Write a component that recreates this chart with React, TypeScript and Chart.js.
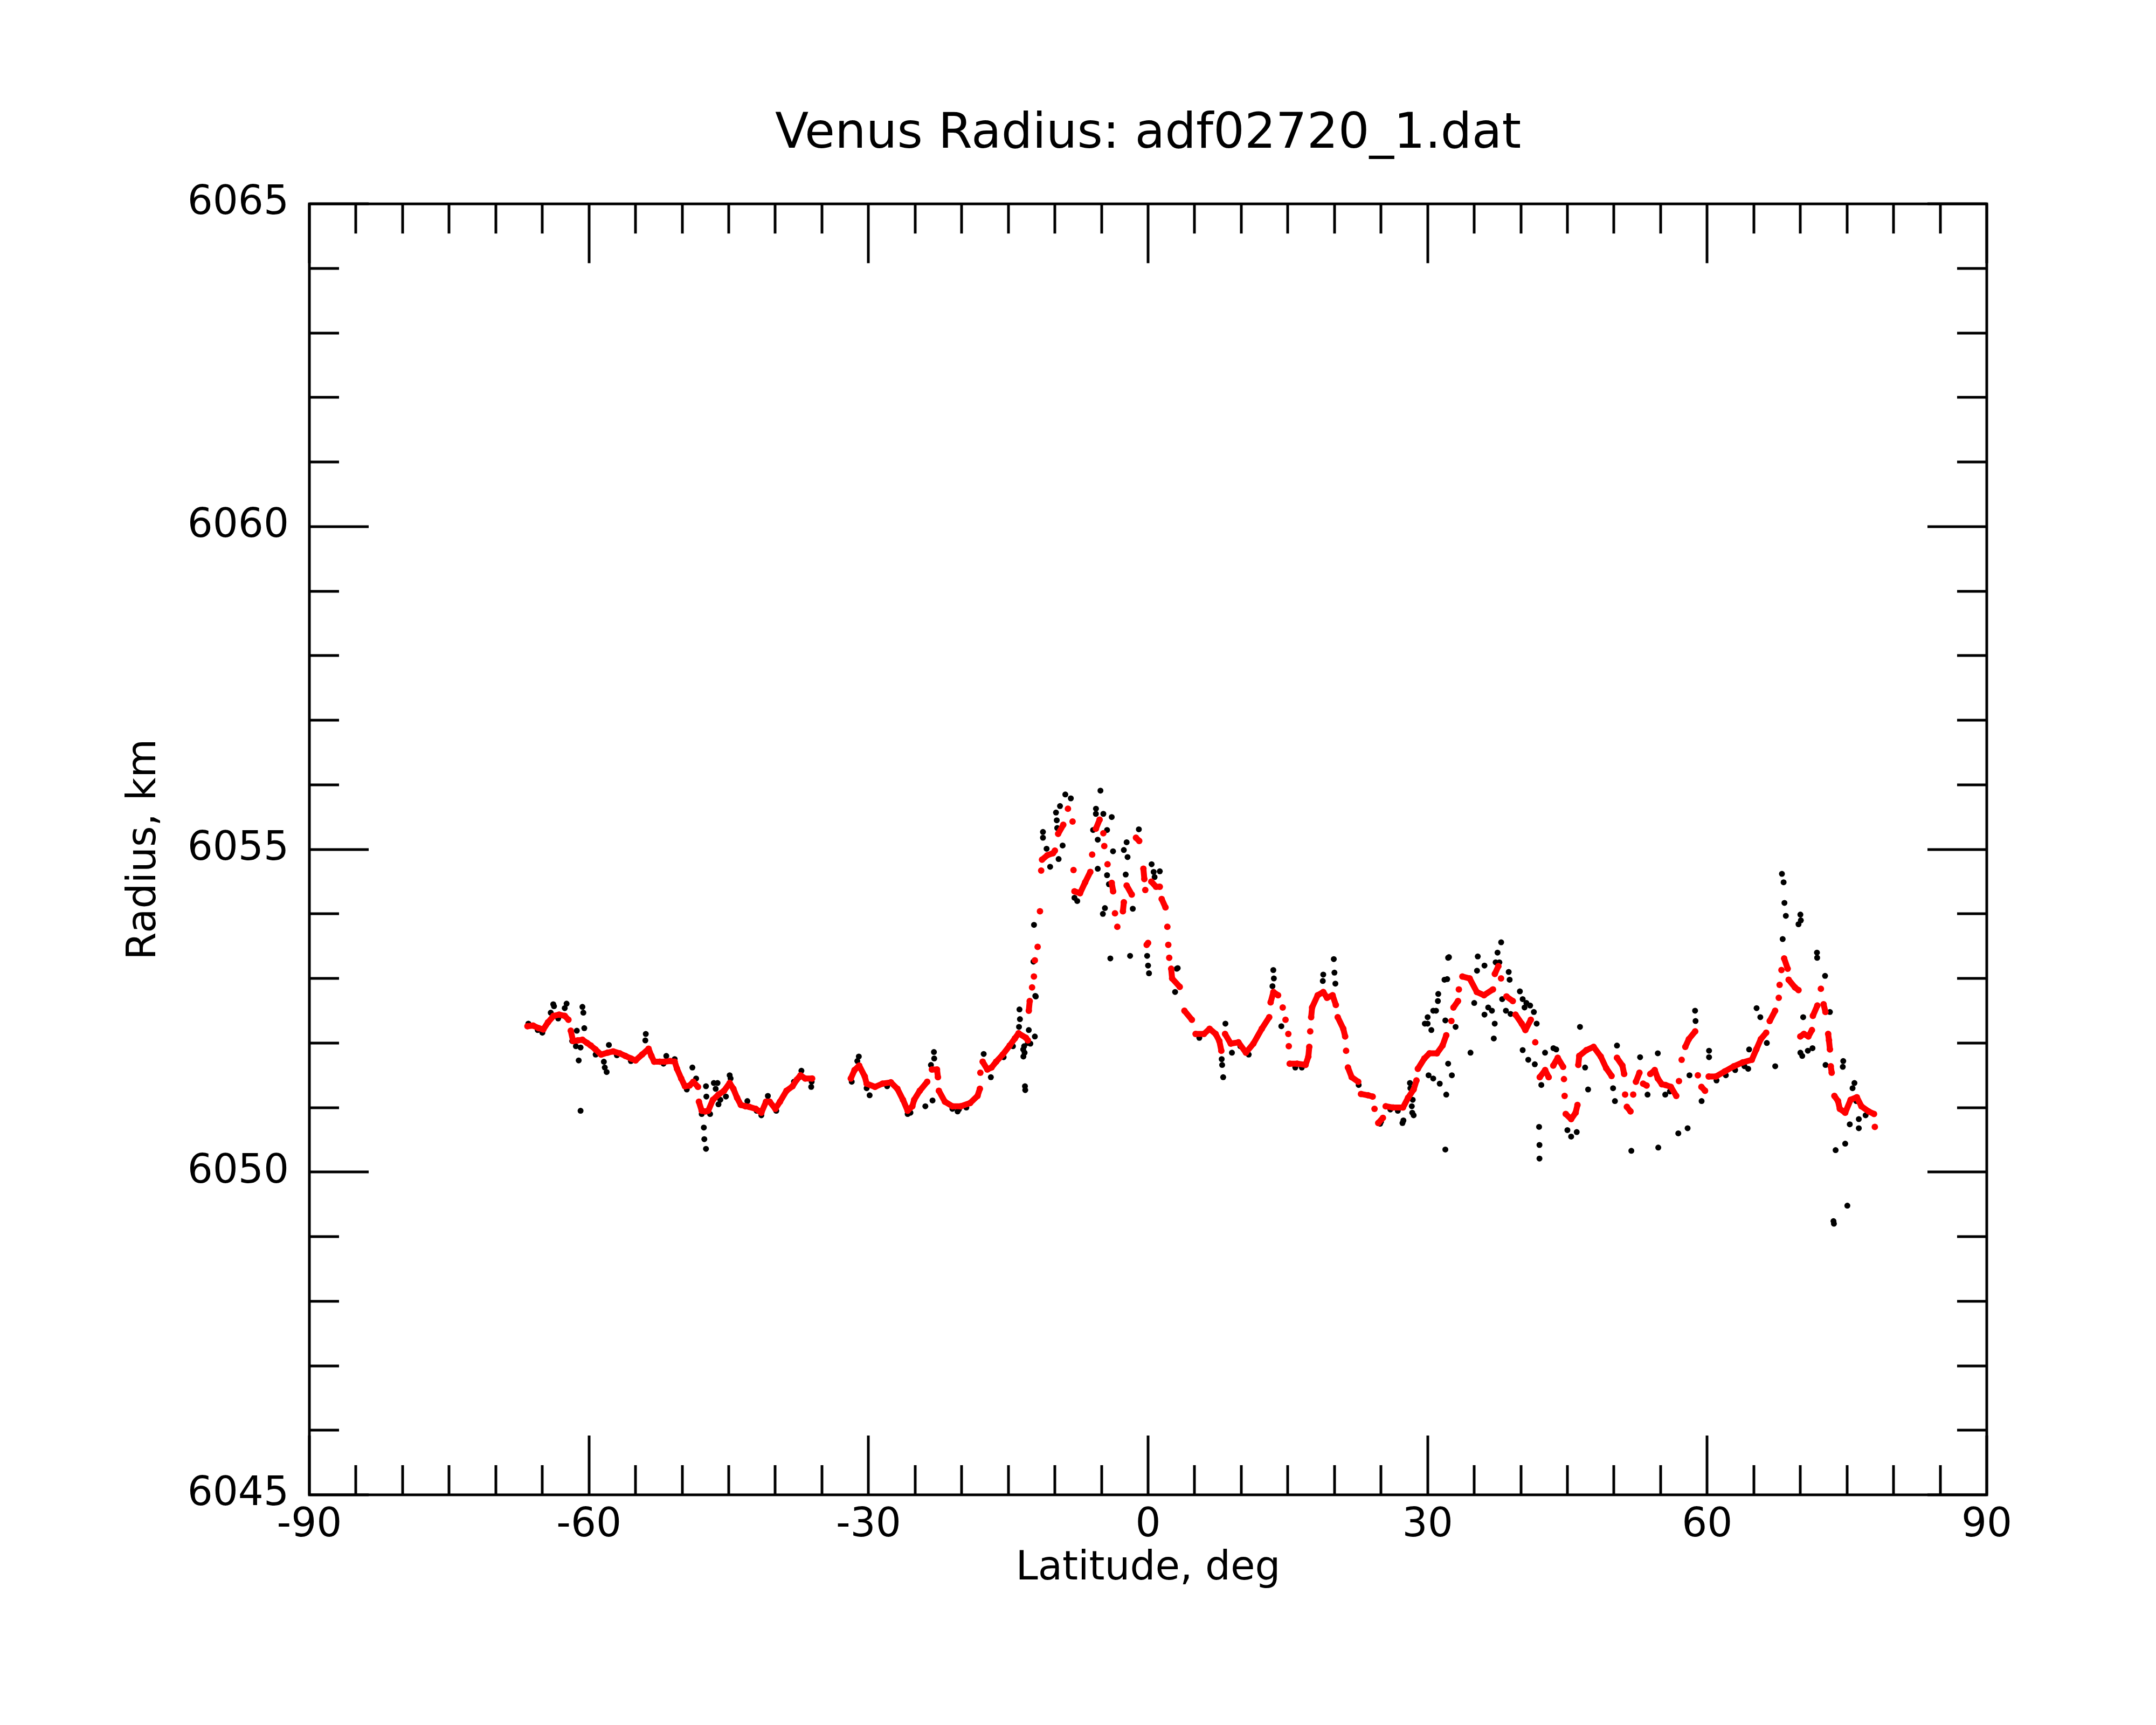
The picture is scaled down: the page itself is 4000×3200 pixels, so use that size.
import { useEffect, useRef } from "react";
import { Chart, registerables } from "chart.js";

Chart.register(...registerables);

const TITLE = "Venus Radius: adf02720_1.dat";
const X_LABEL = "Latitude, deg";
const Y_LABEL = "Radius, km";
const X_MIN = -90, X_MAX = 90, X_MAJOR = 30, X_MINOR = 5;
const Y_MIN = 6045, Y_MAX = 6065, Y_MAJOR = 5, Y_MINOR = 1;

// Smoothed radius (red), [latitude deg, radius km]
const smoothedSouth: [number, number][] = [
  [-66.6, 6052.26], [-66.0, 6052.27], [-65.4, 6052.23], [-64.9, 6052.21], [-64.4, 6052.32], [-63.8, 6052.42],
  [-63.2, 6052.44], [-62.6, 6052.42], [-62.2, 6052.36], [-61.95, 6052.19], [-61.7, 6052.03], [-61.2, 6052.04],
  [-60.7, 6052.05], [-60.2, 6052.0], [-59.8, 6051.96], [-59.3, 6051.9], [-58.7, 6051.82], [-58.0, 6051.85],
  [-57.4, 6051.87], [-56.7, 6051.84], [-56.1, 6051.8], [-55.5, 6051.76], [-55.0, 6051.73], [-54.3, 6051.82],
  [-53.6, 6051.91], [-53.3, 6051.8], [-53.0, 6051.71], [-52.4, 6051.71], [-51.9, 6051.71], [-51.3, 6051.72],
  [-50.8, 6051.71], [-50.55, 6051.6], [-50.1, 6051.45], [-49.7, 6051.33], [-49.2, 6051.34], [-48.8, 6051.4],
  [-48.3, 6051.32], [-48.2, 6051.09], [-47.9, 6050.95], [-47.5, 6050.94], [-47.2, 6050.95], [-46.7, 6051.12],
  [-46.1, 6051.2], [-45.5, 6051.26], [-44.9, 6051.38], [-44.5, 6051.29], [-44.1, 6051.15], [-43.7, 6051.04],
  [-43.2, 6051.02], [-42.8, 6051.01], [-42.1, 6050.98], [-41.5, 6050.92], [-41.0, 6051.09], [-40.6, 6051.09],
  [-40.0, 6050.98], [-39.5, 6051.09], [-38.8, 6051.26], [-38.15, 6051.33], [-37.7, 6051.43], [-37.3, 6051.5],
  [-36.8, 6051.45], [-36.05, 6051.45],
];

const smoothedMid: [number, number][] = [
  [-31.9, 6051.45], [-31.5, 6051.58], [-31.0, 6051.65], [-30.4, 6051.48], [-30.2, 6051.37], [-29.3, 6051.32],
  [-28.5, 6051.37], [-27.6, 6051.39], [-26.9, 6051.29], [-26.3, 6051.12], [-25.8, 6050.95], [-25.3, 6051.02],
  [-25.1, 6051.12], [-24.5, 6051.26], [-23.7, 6051.4], [-23.2, 6051.59], [-22.65, 6051.59], [-22.55, 6051.47],
  [-22.45, 6051.26], [-21.8, 6051.09], [-21.0, 6051.02], [-20.1, 6051.02], [-19.1, 6051.07], [-18.3, 6051.18],
  [-18.05, 6051.29], [-18.0, 6051.54], [-17.75, 6051.71], [-17.25, 6051.59], [-16.8, 6051.62], [-16.3, 6051.71],
  [-15.6, 6051.82], [-14.85, 6051.96], [-14.3, 6052.07], [-13.9, 6052.15], [-13.1, 6052.08], [-12.9, 6052.04],
  [-12.8, 6052.5], [-12.7, 6052.65], [-12.45, 6052.86], [-12.25, 6053.03], [-12.15, 6053.28], [-11.85, 6053.49],
  [-11.6, 6054.04], [-11.47, 6054.67], [-11.38, 6054.84], [-10.8, 6054.91], [-10.2, 6054.94], [-10.0, 6054.98],
  [-9.65, 6055.24], [-9.1, 6055.38], [-8.6, 6055.63], [-8.1, 6055.43], [-8.0, 6054.68], [-7.9, 6054.35],
  [-7.3, 6054.32], [-6.75, 6054.49], [-6.2, 6054.65], [-6.0, 6054.92], [-5.6, 6055.32], [-5.2, 6055.46],
  [-4.8, 6055.25], [-4.7, 6055.05], [-4.35, 6054.77], [-3.9, 6054.48], [-3.75, 6054.35], [-3.55, 6054.01],
  [-3.3, 6053.8], [-2.7, 6054.04], [-2.6, 6054.18], [-2.3, 6054.44], [-1.75, 6054.3], [-1.3, 6055.18],
  [-0.95, 6055.13], [-0.5, 6054.7], [-0.4, 6054.54], [-0.3, 6054.37], [-0.15, 6053.52], [0.0, 6053.55],
  [0.35, 6054.5], [0.85, 6054.42], [1.26, 6054.42], [1.46, 6054.23], [1.87, 6054.1], [2.07, 6053.8],
  [2.17, 6053.52], [2.27, 6053.32], [2.48, 6053.15], [2.58, 6053.0], [3.4, 6052.87], [3.9, 6052.5],
  [4.7, 6052.36], [5.1, 6052.14], [6.0, 6052.14], [6.6, 6052.22], [7.25, 6052.14], [7.65, 6052.03],
  [7.86, 6051.88], [8.26, 6052.14], [8.87, 6051.99], [9.7, 6052.01], [10.5, 6051.85], [11.3, 6051.99],
  [12.2, 6052.22], [13.0, 6052.4], [13.15, 6052.63], [13.45, 6052.79], [13.95, 6052.74], [14.45, 6052.55],
  [14.75, 6052.36], [15.05, 6052.14], [15.1, 6051.95], [15.2, 6051.68],
];

const smoothedNorth: [number, number][] = [
  [16.0, 6051.68], [16.9, 6051.66], [17.2, 6051.79], [17.3, 6051.94], [17.4, 6052.18], [17.5, 6052.4],
  [17.6, 6052.55], [18.2, 6052.74], [18.8, 6052.79], [19.2, 6052.7], [19.8, 6052.74], [20.15, 6052.59],
  [20.35, 6052.4], [20.95, 6052.22], [21.15, 6052.1], [21.25, 6051.88], [21.45, 6051.62], [21.85, 6051.47],
  [22.55, 6051.4], [22.85, 6051.21], [23.6, 6051.19], [24.1, 6051.17], [24.3, 6050.98], [24.7, 6050.76],
  [25.2, 6050.84], [25.5, 6051.02], [26.3, 6051.0], [27.35, 6051.0], [27.9, 6051.15], [28.5, 6051.28],
  [28.8, 6051.42], [28.95, 6051.6], [29.65, 6051.76], [30.2, 6051.84], [31.0, 6051.84], [31.6, 6051.96],
  [32.0, 6052.12], [32.55, 6052.34], [32.77, 6052.55], [33.26, 6052.65], [33.35, 6052.83], [33.73, 6053.03],
  [34.51, 6053.0], [35.28, 6052.79], [36.05, 6052.74], [37.01, 6052.83], [37.21, 6053.07], [37.59, 6053.19],
  [37.88, 6053.0], [38.46, 6052.72], [39.14, 6052.65], [39.43, 6052.44], [40.1, 6052.3], [40.49, 6052.2],
  [41.07, 6052.36], [41.55, 6052.01], [42.03, 6051.47], [42.61, 6051.58], [42.99, 6051.47], [43.48, 6051.65],
  [43.96, 6051.77], [44.54, 6051.63], [44.63, 6051.44], [44.7, 6051.18], [44.82, 6050.9], [45.4, 6050.82],
  [45.88, 6050.92], [46.08, 6051.04], [46.17, 6051.66], [46.27, 6051.8], [47.04, 6051.89], [47.81, 6051.94],
  [48.58, 6051.79], [49.16, 6051.61], [49.74, 6051.49], [50.32, 6051.77], [50.9, 6051.65], [51.09, 6051.52],
  [51.19, 6051.2], [51.38, 6051.01], [51.77, 6050.94], [52.06, 6051.2], [52.35, 6051.4], [52.73, 6051.54],
  [53.12, 6051.37], [53.5, 6051.34], [53.89, 6051.52], [54.37, 6051.58], [54.7, 6051.45], [55.14, 6051.36],
  [55.52, 6051.35], [56.1, 6051.32], [56.68, 6051.18], [56.97, 6051.41], [57.26, 6051.74], [57.65, 6051.94],
  [58.03, 6052.06], [58.71, 6052.18], [59.0, 6051.5], [59.38, 6051.32], [59.77, 6051.26], [60.16, 6051.48],
  [60.93, 6051.48], [61.89, 6051.56], [62.86, 6051.64], [63.82, 6051.7], [64.79, 6051.74], [65.27, 6051.9],
  [65.75, 6052.06], [66.33, 6052.16], [66.71, 6052.34], [67.29, 6052.5], [67.68, 6052.7], [67.77, 6052.9],
  [67.97, 6053.13], [68.26, 6053.31], [68.64, 6053.15], [68.74, 6052.98], [69.42, 6052.86], [69.8, 6052.82],
  [69.99, 6052.1], [70.38, 6052.14], [70.86, 6052.1], [71.24, 6052.2], [71.34, 6052.42], [71.82, 6052.58],
  [72.2, 6052.84], [72.49, 6052.6], [72.69, 6052.48], [72.98, 6052.14], [73.07, 6052.04], [73.17, 6051.9],
  [73.26, 6051.64], [73.36, 6051.54], [73.65, 6051.18], [74.04, 6051.1], [74.23, 6050.98], [74.81, 6050.92],
  [75.39, 6051.12], [76.06, 6051.16], [76.55, 6051.02], [77.32, 6050.94], [77.9, 6050.9], [77.99, 6050.7],
];

// Raw radius samples (black), [latitude deg, radius km]
const rawSouth: [number, number][] = [
  [-66.5, 6052.3], [-65.5, 6052.2], [-65.0, 6052.16], [-64.1, 6052.47], [-63.83, 6052.6], [-63.75, 6052.57],
  [-63.3, 6052.38], [-62.4, 6052.61], [-62.6, 6052.54], [-60.7, 6052.56], [-60.6, 6052.47], [-60.5, 6052.23],
  [-61.3, 6052.19], [-61.8, 6052.03], [-61.4, 6051.95], [-60.9, 6051.93], [-61.1, 6051.73], [-60.9, 6050.95],
  [-59.28, 6051.82], [-58.4, 6051.71], [-58.3, 6051.62], [-58.1, 6051.55], [-57.86, 6051.97], [-57.0, 6051.81],
  [-55.5, 6051.72], [-53.9, 6052.14], [-53.95, 6052.04], [-52.0, 6051.68], [-51.7, 6051.8], [-50.8, 6051.75],
  [-49.5, 6051.28], [-48.9, 6051.62], [-48.5, 6051.45], [-47.9, 6050.9], [-47.44, 6051.33], [-47.4, 6051.17],
  [-47.67, 6050.69], [-47.62, 6050.51], [-47.44, 6050.36], [-47.0, 6050.9], [-46.6, 6051.38], [-46.2, 6051.38],
  [-46.4, 6051.29], [-45.9, 6051.12], [-46.1, 6051.05], [-44.9, 6051.5], [-44.8, 6051.45], [-45.3, 6051.17],
  [-43.0, 6051.1], [-42.0, 6050.95], [-41.5, 6050.88], [-40.8, 6051.18], [-39.9, 6050.95], [-38.0, 6051.4],
  [-37.5, 6051.46], [-37.2, 6051.57], [-36.15, 6051.32], [-36.1, 6051.4],
];

const rawMid: [number, number][] = [
  [-31.8, 6051.4], [-31.04, 6051.79], [-31.2, 6051.72], [-30.2, 6051.3], [-29.88, 6051.19], [-28.0, 6051.33],
  [-25.8, 6050.9], [-25.5, 6050.92], [-23.9, 6051.02], [-23.13, 6051.11], [-22.98, 6051.86], [-22.95, 6051.76],
  [-23.3, 6051.66], [-21.0, 6050.98], [-20.44, 6050.94], [-20.3, 6050.97], [-19.5, 6051.0], [-16.87, 6051.47],
  [-17.64, 6051.83], [-15.5, 6051.78], [-14.5, 6051.95], [-13.85, 6052.25], [-13.8, 6052.52], [-13.75, 6052.37],
  [-13.4, 6051.9], [-13.38, 6051.79], [-13.3, 6051.95], [-13.25, 6051.85], [-13.21, 6051.33], [-13.18, 6051.27],
  [-12.9, 6052.0], [-12.8, 6052.2], [-12.63, 6051.99], [-12.3, 6053.26], [-12.24, 6053.83], [-12.15, 6052.1],
  [-12.1, 6052.73], [-12.05, 6052.72], [-11.28, 6055.27], [-11.28, 6055.18], [-10.89, 6055.01],
  [-10.51, 6054.73], [-9.88, 6055.57], [-9.8, 6055.45], [-9.75, 6055.33], [-9.6, 6054.85], [-9.45, 6055.67],
  [-9.17, 6055.06], [-8.88, 6055.85], [-8.29, 6055.79], [-7.9, 6054.25], [-7.6, 6054.2], [-5.9, 6055.3],
  [-5.6, 6055.55], [-5.59, 6055.63], [-5.4, 6055.15], [-5.4, 6054.7], [-5.11, 6055.91], [-4.85, 6054.0],
  [-4.8, 6055.55], [-4.63, 6054.09], [-4.4, 6055.3], [-4.4, 6054.6], [-4.2, 6054.46], [-4.05, 6053.31],
  [-3.9, 6055.5], [-3.76, 6054.97], [-2.6, 6054.99], [-2.4, 6054.61], [-2.3, 6055.11], [-2.2, 6054.88],
  [-1.93, 6053.35], [-1.64, 6054.08], [-0.99, 6055.31], [-0.1, 6053.35], [0.0, 6053.2], [0.1, 6053.08],
  [0.38, 6054.77], [0.6, 6054.65], [0.7, 6054.57], [1.26, 6054.66], [2.9, 6052.79], [3.08, 6053.15],
  [3.18, 6053.16], [5.5, 6052.08], [7.9, 6051.75], [7.95, 6051.66], [8.06, 6051.47], [8.3, 6052.3],
  [9.0, 6051.85], [9.9, 6051.95], [10.8, 6051.82], [13.35, 6052.88], [13.44, 6053.13], [13.5, 6053.0],
  [14.3, 6052.26],
];

const rawNorth: [number, number][] = [
  [15.8, 6051.62], [16.5, 6051.62], [18.75, 6052.96], [18.8, 6053.06], [19.93, 6053.3], [20.0, 6053.09],
  [20.1, 6052.92], [22.6, 6051.35], [24.9, 6050.75], [25.0, 6050.78], [26.0, 6050.97], [26.8, 6050.95],
  [27.3, 6050.76], [27.4, 6050.8], [28.1, 6051.38], [28.15, 6051.3], [28.3, 6051.02], [28.35, 6050.92],
  [28.4, 6051.12], [28.5, 6050.88], [29.7, 6052.3], [30.0, 6052.4], [30.0, 6052.3], [30.1, 6051.5],
  [30.4, 6052.2], [30.6, 6051.45], [30.6, 6052.5], [30.9, 6052.5], [31.1, 6052.65], [31.14, 6052.76],
  [31.3, 6051.37], [31.81, 6052.98], [31.9, 6052.35], [31.9, 6050.35], [32.0, 6051.2], [32.1, 6052.99],
  [32.2, 6053.32], [32.2, 6051.68], [32.29, 6053.33], [32.6, 6051.5], [33.0, 6052.25], [34.6, 6051.85],
  [35.0, 6052.62], [35.3, 6053.12], [35.38, 6053.34], [36.1, 6053.2], [36.1, 6052.44], [36.5, 6052.55],
  [36.9, 6052.5], [37.1, 6052.07], [37.2, 6052.3], [37.3, 6053.25], [37.5, 6053.4], [37.7, 6053.25],
  [37.89, 6053.56], [38.0, 6052.68], [38.4, 6052.5], [38.7, 6053.1], [38.8, 6052.98], [38.9, 6052.45],
  [39.9, 6052.8], [40.2, 6052.68], [40.2, 6051.89], [40.4, 6052.55], [40.6, 6052.62], [40.8, 6051.74],
  [41.0, 6052.58], [41.4, 6052.48], [41.5, 6051.67], [41.7, 6052.3], [41.96, 6050.7], [42.0, 6050.42],
  [42.0, 6050.21], [42.2, 6051.35], [42.6, 6051.85], [43.5, 6051.92], [43.8, 6051.9], [45.0, 6050.65],
  [45.4, 6050.55], [46.0, 6050.62], [46.35, 6052.25], [46.9, 6051.62], [47.22, 6051.28], [49.9, 6051.3],
  [50.1, 6051.1], [50.32, 6051.96], [51.86, 6050.33], [52.8, 6051.78], [53.6, 6051.2], [54.7, 6051.84],
  [54.75, 6050.38], [55.5, 6051.2], [56.0, 6051.25], [56.9, 6050.6], [57.9, 6050.68], [58.1, 6051.5],
  [58.7, 6052.5], [58.75, 6052.34], [59.4, 6051.1], [60.2, 6051.88], [60.2, 6051.78], [61.0, 6051.42],
  [62.0, 6051.5], [63.0, 6051.58], [64.0, 6051.64], [64.4, 6051.6], [64.5, 6051.9], [65.3, 6052.54],
  [65.7, 6052.4], [66.4, 6052.0], [67.3, 6051.64], [68.02, 6054.62], [68.1, 6053.61], [68.2, 6054.49],
  [68.29, 6054.17], [68.44, 6053.97], [69.8, 6053.84], [70.0, 6053.99], [70.0, 6051.85], [70.05, 6053.9],
  [70.2, 6051.8], [70.3, 6052.4], [70.8, 6051.88], [71.3, 6051.92], [71.78, 6053.4], [71.8, 6053.32],
  [72.65, 6053.04], [72.7, 6051.66], [73.17, 6052.48], [73.55, 6049.24], [73.6, 6049.2], [73.78, 6050.34],
  [74.55, 6051.63], [74.6, 6051.72], [74.81, 6050.44], [75.04, 6049.48], [75.3, 6050.74], [75.6, 6051.3],
  [75.8, 6051.38], [76.0, 6051.1], [76.27, 6050.82], [76.27, 6050.68], [77.0, 6050.88],
];

const FONT = "'DejaVu Sans', 'Liberation Sans', sans-serif";

const frameTicks = {
  id: "frameTicks",
  afterDraw(chart: any) {
    const { ctx, chartArea, scales } = chart;
    const { left, right, top, bottom } = chartArea;
    const x = scales.x, y = scales.y;
    ctx.save();
    ctx.strokeStyle = "#000";
    ctx.lineWidth = 5;
    ctx.lineCap = "butt";
    const seg = (x0: number, y0: number, x1: number, y1: number) => {
      ctx.beginPath();
      ctx.moveTo(x0, y0);
      ctx.lineTo(x1, y1);
      ctx.stroke();
    };
    for (let v = X_MIN; v <= X_MAX; v += X_MINOR) {
      const px = Math.round(x.getPixelForValue(v));
      const len = v % X_MAJOR === 0 ? 110 : 55;
      seg(px, bottom, px, bottom - len);
      seg(px, top, px, top + len);
    }
    for (let v = Y_MIN; v <= Y_MAX; v += Y_MINOR) {
      const py = Math.round(y.getPixelForValue(v));
      const len = (v - Y_MIN) % Y_MAJOR === 0 ? 110 : 55;
      seg(left, py, left + len, py);
      seg(right, py, right - len, py);
    }
    ctx.strokeRect(left, top, right - left, bottom - top);
    ctx.restore();
  },
};

export default function App() {
  const ref = useRef<HTMLCanvasElement>(null);
  useEffect(() => {
    document.body.style.margin = "0";
    const toPts = (arr: [number, number][]) => arr.map(([a, b]) => ({ x: a, y: b }));
    const smoothed = toPts([...smoothedSouth, ...smoothedMid, ...smoothedNorth]);
    const raw = toPts([...rawSouth, ...rawMid, ...rawNorth]);
    const chart = new Chart(ref.current as HTMLCanvasElement, {
      type: "scatter",
      data: {
        datasets: [
          {
            label: "smoothed",
            data: smoothed,
            order: 0,
            showLine: true,
            borderColor: "#ff0000",
            borderWidth: 11,
            borderCapStyle: "round",
            borderJoinStyle: "round",
            tension: 0,
            pointRadius: 6,
            pointBorderWidth: 0,
            pointBackgroundColor: "#ff0000",
            segment: {
              borderColor: (c: any) => {
                const dx = c.p1.x - c.p0.x;
                const dy = Math.abs(c.p1.y - c.p0.y);
                return dx > 40 || (dy > 20 && dy > 2.5 * dx) ? "rgba(0,0,0,0)" : undefined;
              },
            },
          } as any,
          {
            label: "raw",
            data: raw,
            order: 1,
            showLine: false,
            pointRadius: 5.5,
            pointBorderWidth: 0,
            pointBackgroundColor: "#000000",
          },
        ],
      },
      options: {
        animation: false,
        responsive: false,
        maintainAspectRatio: false,
        devicePixelRatio: 1,
        events: [],
        layout: { padding: { left: 0, top: 0, right: 314, bottom: 0 } },
        plugins: {
          legend: { display: false },
          tooltip: { enabled: false },
          title: {
            display: true,
            fullSize: false,
            text: TITLE,
            color: "#000",
            font: { family: FONT, size: 91, weight: "normal" },
            padding: { top: 196, bottom: 73 },
          },
        },
        scales: {
          x: {
            type: "linear",
            min: X_MIN,
            max: X_MAX,
            grid: { display: false, drawTicks: false },
            border: { display: false },
            ticks: {
              stepSize: X_MAJOR,
              autoSkip: false,
              maxRotation: 0,
              padding: 13,
              color: "#000",
              font: { family: FONT, size: 74 },
              callback: (v: any) => String(v),
            },
            title: {
              display: true,
              text: X_LABEL,
              color: "#000",
              font: { family: FONT, size: 74 },
              padding: { top: 0, bottom: 245 },
            },
            afterFit: (s: any) => {
              s.height = 427;
            },
          },
          y: {
            type: "linear",
            min: Y_MIN,
            max: Y_MAX,
            grid: { display: false, drawTicks: false },
            border: { display: false },
            ticks: {
              stepSize: Y_MAJOR,
              padding: 38,
              color: "#000",
              font: { family: FONT, size: 74 },
              callback: (v: any) => String(v),
            },
            title: {
              display: true,
              text: Y_LABEL,
              color: "#000",
              font: { family: FONT, size: 74 },
              padding: { top: 224, bottom: 0 },
            },
            afterFit: (s: any) => {
              s.width = 574;
            },
          },
        },
      } as any,
      plugins: [frameTicks],
    });
    return () => chart.destroy();
  }, []);
  return (
    <div style={{ width: 4000, height: 3200 }}>
      <canvas ref={ref} width={4000} height={3200} style={{ display: "block", width: 4000, height: 3200 }} />
    </div>
  );
}
